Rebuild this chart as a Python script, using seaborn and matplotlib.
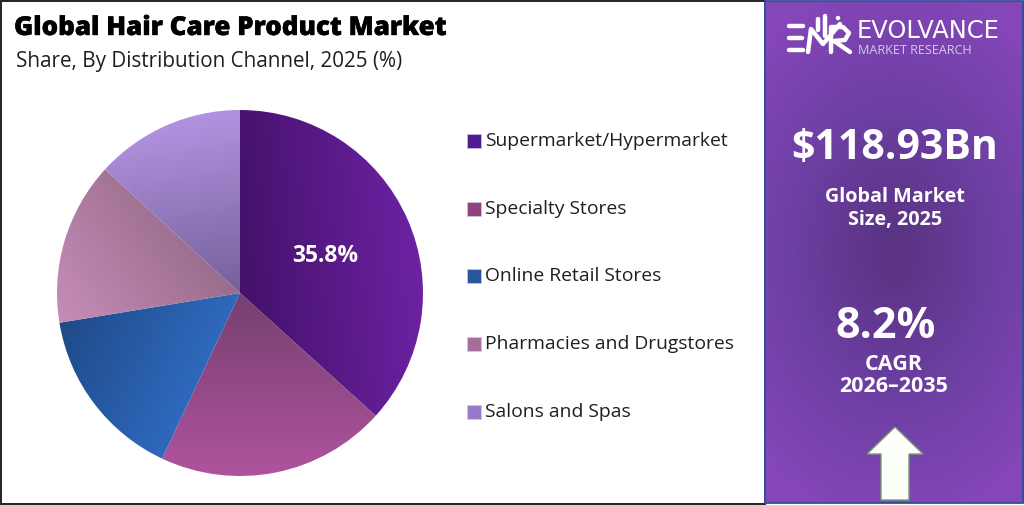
"""Global hair care market share pie with the purple side panel."""

import matplotlib.patheffects as pe
import matplotlib.pyplot as plt
import numpy as np
import seaborn as sns
from matplotlib.colors import LinearSegmentedColormap
from matplotlib.patches import Circle, Polygon, Rectangle

channels = [
    "Supermarket/Hypermarket",
    "Specialty Stores",
    "Online Retail Stores",
    "Pharmacies and Drugstores",
    "Salons and Spas",
]
# the first slice is drawn a bit wider than its label says
shares = [36.7, 20.3, 15.4, 14.4, 13.2]
share_labels = ["35.8%", "", "", "", ""]
title = "Global Hair Care Product Market"
subtitle = "Share, By Distribution Channel, 2025 (%)"
market_size = "$118.93Bn"
market_label = "Global Market\nSize, 2025"
cagr = "8.2%"
cagr_label = "CAGR\n2026–2035"

# dark end, light end, gradient direction in degrees
slice_colors = [
    ("#44116a", "#6c22a2", 5),
    ("#74406f", "#b0539e", 270),
    ("#1f4a88", "#2f69bd", 335),
    ("#9a6d8c", "#c58db9", 215),
    ("#74609a", "#b292e0", 100),
]
swatches = ["#501a90", "#8f4482", "#2a559f", "#a86e9a", "#9a78c8"]

W, H = 1024, 505
sns.set_theme(style="white")
plt.rcParams["font.family"] = ["Open Sans", "DejaVu Sans"]

fig = plt.figure(figsize=(W / 100, H / 100), dpi=100)
bg = fig.add_axes([0, 0, 1, 1])
bg.set_xlim(0, W)
bg.set_ylim(H, 0)
bg.axis("off")

# frame and side panel
bg.add_patch(Rectangle((0.5, 1), 764, 502.5, fc="white", ec="#222222", lw=1.4))
yy, xx = np.mgrid[0:1:140j, 0:1:80j]
dist = np.sqrt(((xx - 0.5) * 0.9) ** 2 + ((yy - 0.5) * 1.25) ** 2)
panel_cmap = LinearSegmentedColormap.from_list("panel", ["#5a3383", "#6c3fa2", "#8446b8"])
bg.imshow(dist, extent=(765, 1024, 503, 1), cmap=panel_cmap, aspect="auto", vmin=0.03, vmax=0.68, zorder=1)
bg.add_patch(Rectangle((765, 1), 258, 502, fc="none", ec="#2f4f9a", lw=1.3, zorder=2))

# pie
cx, cy, r = 240, 293, 183
pie_ax = fig.add_axes([(cx - r - 2) / W, 1 - (cy + r + 2) / H, (2 * r + 4) / W, (2 * r + 4) / H])
lim = (r + 2) / r
wedges, _ = pie_ax.pie(shares, startangle=90, counterclock=False, radius=1)
gx, gy = np.meshgrid(np.linspace(-1, 1, 300), np.linspace(-1, 1, 300))
for i, (wedge, (dark, light, angle)) in enumerate(zip(wedges, slice_colors)):
    wedge.set_facecolor("none")
    wedge.set_edgecolor("none")
    a = np.deg2rad(angle)
    grad = gx * np.cos(a) + gy * np.sin(a)
    # scale the ramp to the extent of this slice only
    arc = np.deg2rad(np.linspace(wedge.theta1, wedge.theta2, 40))
    proj = np.r_[0, np.cos(arc)] * np.cos(a) + np.r_[0, np.sin(arc)] * np.sin(a)
    cmap = LinearSegmentedColormap.from_list("s", [dark, light])
    im = pie_ax.imshow(grad, extent=(-1, 1, -1, 1), origin="lower", cmap=cmap,
                       vmin=proj.min(), vmax=proj.max(), zorder=1)
    im.set_clip_path(wedge)
    if share_labels[i]:
        mid = np.deg2rad((wedge.theta1 + wedge.theta2) / 2)
        pie_ax.text(0.51 * np.cos(mid), 0.5 * np.sin(mid), share_labels[i], color="white",
                    fontsize=16.5, fontweight="bold", ha="center", va="center", zorder=3)
pie_ax.set_xlim(-lim, lim)
pie_ax.set_ylim(-lim, lim)
pie_ax.axis("off")

# titles
bg.text(14, 28, title, fontsize=18.7, fontweight="heavy", color="black", va="center", zorder=3,
        path_effects=[pe.withStroke(linewidth=0.3, foreground="black")])
bg.text(16, 61, subtitle, fontsize=14.85, color="#1f1f1f", va="center", zorder=3)

# legend
legend_y = [141, 209, 276, 344, 412]
for name, y, col in zip(channels, legend_y, swatches):
    bg.add_patch(Rectangle((467, y - 7), 14, 14, fc=col, ec="#d8d0e4", lw=0.4, zorder=3))
    bg.text(485, y, name, fontsize=13.9, color="#1f1f1f", va="center", zorder=3)

# panel text
bg.text(895, 148, market_size, color="white", fontsize=29.5, fontweight="bold", ha="center", va="center", zorder=3)
bg.text(895, 209, market_label, color="white", fontsize=14.2, fontweight="bold", ha="center", va="center",
        linespacing=1.2, zorder=3)
bg.text(886, 326, cagr, color="white", fontsize=31, fontweight="bold", ha="center", va="center", zorder=3)
bg.text(894, 375.5, cagr_label, color="white", fontsize=15.5, fontweight="bold", ha="center", va="center",
        linespacing=1.1, zorder=3)

# logo mark, EMR drawn as strokes
logo_strokes = [
    ([789, 803], [26, 26]), ([789, 802], [38, 38]), ([789, 803], [50, 50]),
    ([808, 811, 823, 840], [52, 29, 44, 24]),
    ([831, 831], [52, 29]),
    ([831, 843, 849, 845, 834, 850], [27, 27, 33, 40, 41, 52]),
    ([818, 818], [30, 19]), ([825, 825], [36, 16]),
]
for xs, ys in logo_strokes:
    bg.plot(xs, ys, color="white", lw=3.2, solid_capstyle="round", solid_joinstyle="round", zorder=3)
bg.add_patch(Circle((838, 18), 2.2, fc="white", ec="none", zorder=3))
bg.text(857, 38.5, "EVOLVANCE", color="white", fontsize=17.4, va="baseline", zorder=3,
        family=["DejaVu Sans"])
bg.text(858, 54, "MARKET RESEARCH", color="#d8c8ee", fontsize=9.1, va="baseline", zorder=3)
bg.set_xlim(0, W)
bg.set_ylim(H, 0)

# arrow
bg.add_patch(Polygon([(895, 427), (923, 454), (909, 454), (909, 500), (881, 500), (881, 454), (867, 454)],
                     closed=True, fc="#fdfffb", ec="#7a9a76", lw=1.0, zorder=3))

fig.savefig("out.png", dpi=100)
plt.close(fig)
